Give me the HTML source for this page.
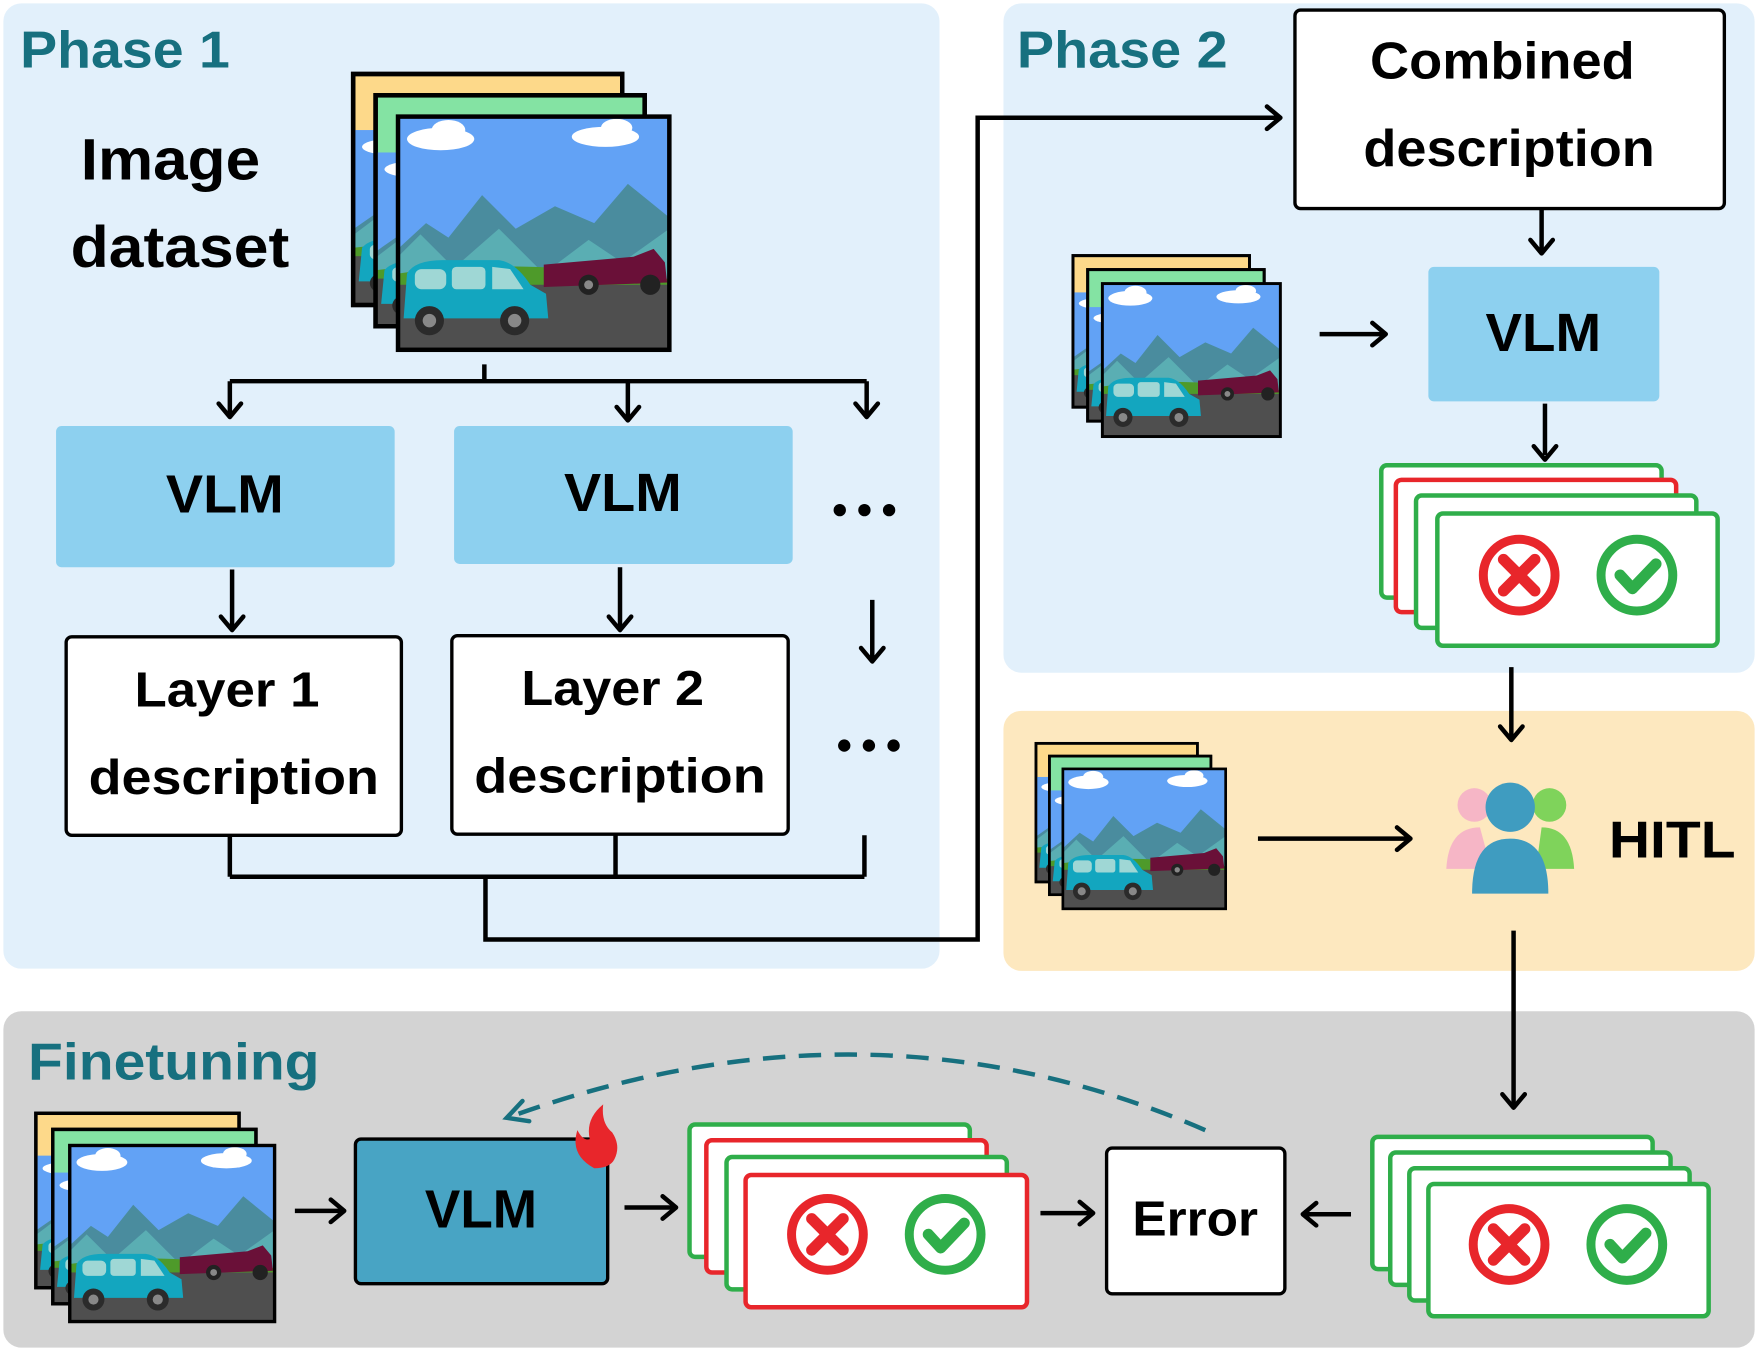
<!DOCTYPE html>
<html><head><meta charset="utf-8"><style>
html,body{margin:0;padding:0;background:#fff}
svg{display:block}
text{font-family:"Liberation Sans","DejaVu Sans",sans-serif;font-weight:bold}
</style></head><body>
<svg width="1758" height="1351" viewBox="0 0 1568 1205" xmlns="http://www.w3.org/2000/svg">
<defs>
<g id="scene">
 <rect x="0" y="0" width="242" height="208" fill="#62a2f5"/>
 <g fill="#fff"><ellipse cx="38" cy="20" rx="30" ry="10"/><ellipse cx="45" cy="12" rx="15" ry="9"/><ellipse cx="185" cy="18" rx="30" ry="9"/><ellipse cx="195" cy="10" rx="14" ry="8"/></g>
 <polygon points="0,118 25,95 45,108 75,70 105,100 140,80 175,95 205,60 242,90 242,150 0,150" fill="#4a8c9e"/>
 <polygon points="0,125 20,105 50,135 90,100 130,140 170,110 200,130 242,100 242,160 0,160" fill="#5aaeb3"/>
 <path d="M0 140 Q100 125 242 145 L242 160 L0 160Z" fill="#4e9a2a"/>
 <rect x="0" y="150" width="242" height="58" fill="#4f4f4f"/>
 <path d="M130 132 L210 125 L228 118 L238 130 L240 148 L130 152Z" fill="#6a1038"/>
 <circle cx="170" cy="150" r="9" fill="#222"/><circle cx="170" cy="150" r="4" fill="#888"/>
 <circle cx="225" cy="150" r="9" fill="#222"/>
 <path d="M5 180 L8 140 Q15 128 40 128 L90 128 Q105 130 118 150 L132 158 L134 180 Z" fill="#13a6bf"/>
 <g fill="#9fd7d5"><rect x="15" y="136" width="28" height="18" rx="6"/><rect x="48" y="134" width="30" height="20" rx="4"/><path d="M84 134 L100 136 L112 154 L84 154Z"/></g>
 <circle cx="28" cy="182" r="13" fill="#2b2b2b"/><circle cx="28" cy="182" r="6" fill="#888"/>
 <circle cx="104" cy="182" r="13" fill="#2b2b2b"/><circle cx="104" cy="182" r="6" fill="#888"/>
</g>
<g id="stack">
 <rect x="0" y="0" width="240" height="206" fill="#fdd98a" stroke="#000" stroke-width="4"/>
 <use href="#scene" transform="translate(0,50) scale(0.99,0.75)"/>
 <rect x="0" y="0" width="240" height="206" fill="none" stroke="#000" stroke-width="4"/>
 <rect x="20" y="19" width="240" height="206" fill="#84e3a3" stroke="#000" stroke-width="4"/>
 <use href="#scene" transform="translate(20,70) scale(0.99,0.75)"/>
 <rect x="20" y="19" width="240" height="206" fill="none" stroke="#000" stroke-width="4"/>
 <use href="#scene" transform="translate(40,38)"/>
 <rect x="40" y="38" width="242" height="208" fill="none" stroke="#000" stroke-width="4"/>
</g>
<g id="icons">
 <circle cx="0" cy="0" r="32" fill="none" stroke="#e8262b" stroke-width="8"/>
 <path d="M-14 -14 L14 14 M14 -14 L-14 14" stroke="#e8262b" stroke-width="10" stroke-linecap="round"/>
 <circle cx="105" cy="0" r="32" fill="none" stroke="#2fae4a" stroke-width="8"/>
 <path d="M90 0 L101 12 L122 -10" fill="none" stroke="#2fae4a" stroke-width="10" stroke-linecap="round" stroke-linejoin="round"/>
</g>
</defs>

<rect x="3" y="3" width="835" height="861" rx="16" fill="#e2f0fb"/>
<rect x="895" y="3" width="670" height="597" rx="16" fill="#e2f0fb"/>
<rect x="895" y="634" width="670" height="232" rx="16" fill="#fde8bf"/>
<rect x="3" y="902" width="1562" height="300" rx="16" fill="#d3d3d3"/>

<text x="18" y="60" font-size="46" fill="#17707f" textLength="187" lengthAdjust="spacingAndGlyphs">Phase 1</text>
<text x="907" y="60" font-size="46" fill="#17707f" textLength="188" lengthAdjust="spacingAndGlyphs">Phase 2</text>
<text x="25" y="963" font-size="46" fill="#17707f" textLength="260" lengthAdjust="spacingAndGlyphs">Finetuning</text>

<text x="72" y="160" font-size="52" textLength="160" lengthAdjust="spacingAndGlyphs">Image</text>
<text x="63" y="238" font-size="52" textLength="195" lengthAdjust="spacingAndGlyphs">dataset</text>

<use href="#stack" transform="translate(315,66)"/>
<use href="#stack" transform="translate(957,228) scale(0.656)"/>
<use href="#stack" transform="translate(924,663) scale(0.6)"/>
<use href="#stack" transform="translate(32,993) scale(0.755)"/>

<rect x="50" y="380" width="302" height="126" rx="5" fill="#8dd0ef"/>
<text x="148" y="457" font-size="48" textLength="105" lengthAdjust="spacingAndGlyphs">VLM</text>
<rect x="405" y="380" width="302" height="123" rx="5" fill="#8dd0ef"/>
<text x="503" y="456" font-size="48" textLength="105" lengthAdjust="spacingAndGlyphs">VLM</text>
<rect x="1274" y="238" width="206" height="120" rx="5" fill="#8dd0ef"/>
<text x="1325" y="313" font-size="48" textLength="103" lengthAdjust="spacingAndGlyphs">VLM</text>
<rect x="317" y="1016" width="225" height="129" rx="5" fill="#48a4c4" stroke="#000" stroke-width="3"/>
<text x="379" y="1095" font-size="48" textLength="100" lengthAdjust="spacingAndGlyphs">VLM</text>

<rect x="59" y="568" width="299" height="177" rx="5" fill="#fff" stroke="#000" stroke-width="3"/>
<text x="120" y="630" font-size="44" textLength="165" lengthAdjust="spacingAndGlyphs">Layer 1</text>
<text x="79" y="708" font-size="44" textLength="259" lengthAdjust="spacingAndGlyphs">description</text>
<rect x="403" y="567" width="300" height="177" rx="5" fill="#fff" stroke="#000" stroke-width="3"/>
<text x="465" y="629" font-size="44" textLength="163" lengthAdjust="spacingAndGlyphs">Layer 2</text>
<text x="423" y="707" font-size="44" textLength="260" lengthAdjust="spacingAndGlyphs">description</text>
<g fill="#000"><circle cx="749" cy="455" r="5.5"/><circle cx="771" cy="455" r="5.5"/><circle cx="793" cy="455" r="5.5"/>
<circle cx="753" cy="665" r="5.5"/><circle cx="775" cy="665" r="5.5"/><circle cx="797" cy="665" r="5.5"/></g>

<rect x="1155" y="9" width="383" height="177" rx="5" fill="#fff" stroke="#000" stroke-width="3"/>
<text x="1222" y="70" font-size="46" textLength="236" lengthAdjust="spacingAndGlyphs">Combined</text>
<text x="1216" y="148" font-size="46" textLength="260" lengthAdjust="spacingAndGlyphs">description</text>

<rect x="987" y="1024" width="159" height="130" rx="5" fill="#fff" stroke="#000" stroke-width="3"/>
<text x="1010" y="1102" font-size="44" textLength="112" lengthAdjust="spacingAndGlyphs">Error</text>

<g stroke-width="4" fill="#fff">
<rect x="1232" y="415" width="250" height="118" rx="5" stroke="#2fae4a"/>
<rect x="1245" y="428" width="250" height="118" rx="5" stroke="#e8262b"/>
<rect x="1263" y="442" width="250" height="118" rx="5" stroke="#2fae4a"/>
<rect x="1282" y="458" width="250" height="118" rx="5" stroke="#2fae4a"/>
</g>
<use href="#icons" transform="translate(1355,513)"/>
<g stroke-width="4" fill="#fff">
<rect x="615" y="1003" width="250" height="118" rx="5" stroke="#2fae4a"/>
<rect x="630" y="1017" width="250" height="118" rx="5" stroke="#e8262b"/>
<rect x="648" y="1032" width="250" height="118" rx="5" stroke="#2fae4a"/>
<rect x="665" y="1048" width="251" height="118" rx="5" stroke="#e8262b"/>
</g>
<use href="#icons" transform="translate(738,1101)"/>
<g stroke-width="4" fill="#fff" stroke="#2fae4a">
<rect x="1224" y="1014" width="250" height="118" rx="5"/>
<rect x="1240" y="1028" width="250" height="118" rx="5"/>
<rect x="1257" y="1042" width="250" height="118" rx="5"/>
<rect x="1274" y="1056" width="250" height="118" rx="5"/>
</g>
<use href="#icons" transform="translate(1346,1110)"/>

<g>
<circle cx="1315" cy="718" r="15" fill="#f6b6c6"/>
<path d="M1290 775 Q1292 738 1320 738 L1330 775Z" fill="#f6b6c6"/>
<circle cx="1382" cy="718" r="15" fill="#7fd35b"/>
<path d="M1370 775 L1375 738 Q1402 738 1404 775Z" fill="#7fd35b"/>
<circle cx="1347" cy="720" r="22" fill="#3f9cc0"/>
<path d="M1313 797 Q1313 748 1347 748 Q1381 748 1381 797Z" fill="#3f9cc0"/>
</g>
<text x="1435" y="765" font-size="46" textLength="113" lengthAdjust="spacingAndGlyphs">HITL</text>

<path d="M530 1042 Q508 1030 515 1008 Q520 1018 526 1016 Q522 998 538 985 Q536 1002 546 1010 Q554 1022 548 1034 Q544 1042 530 1042Z" fill="#e8262b"/>

<g stroke="#000" stroke-width="4" fill="none">
<path d="M432 325 V340 M205 340 H773 M205 340 V370 M560 340 V375 M773 340 V370"/>
<path d="M207 508 V560 M553 506 V560 M778 535 V588"/>
<path d="M205 745 V782 M549 745 V782 M771 745 V782 M205 782 H771 M433 782 V838 H872 V105 H1140"/>
<path d="M1375 186 V224 M1177 298 H1234 M1378 360 V406 M1348 595 V658"/>
<path d="M1122 748 H1256 M1350 830 V986 M1205 1083 H1164 M928 1082 H973 M557 1077 H601 M263 1080 H305"/>
</g>
<g stroke="#000" stroke-width="4" fill="none" stroke-linecap="round" stroke-linejoin="round">
<path d="M195 360 L205 372 L215 360"/><path d="M550 363 L560 375 L570 363"/><path d="M763 360 L773 372 L783 360"/>
<path d="M197 550 L207 562 L217 550"/><path d="M543 550 L553 562 L563 550"/><path d="M768 578 L778 590 L788 578"/>
<path d="M1130 95 L1142 105 L1130 115"/>
<path d="M1365 214 L1375 226 L1385 214"/><path d="M1224 288 L1236 298 L1224 308"/><path d="M1368 398 L1378 410 L1388 398"/>
<path d="M1338 648 L1348 660 L1358 648"/><path d="M1246 738 L1258 748 L1246 758"/><path d="M1340 976 L1350 988 L1360 976"/>
<path d="M1174 1073 L1162 1083 L1174 1093"/><path d="M963 1072 L975 1082 L963 1092"/><path d="M591 1067 L603 1077 L591 1087"/><path d="M295 1070 L307 1080 L295 1090"/>
</g>
<path d="M1075 1008 Q780 880 458 995" fill="none" stroke="#17707f" stroke-width="4" stroke-dasharray="20 12"/>
<path d="M466 982 L452 997 L472 1000" fill="none" stroke="#17707f" stroke-width="4" stroke-linecap="round"/>
</svg>
</body></html>
